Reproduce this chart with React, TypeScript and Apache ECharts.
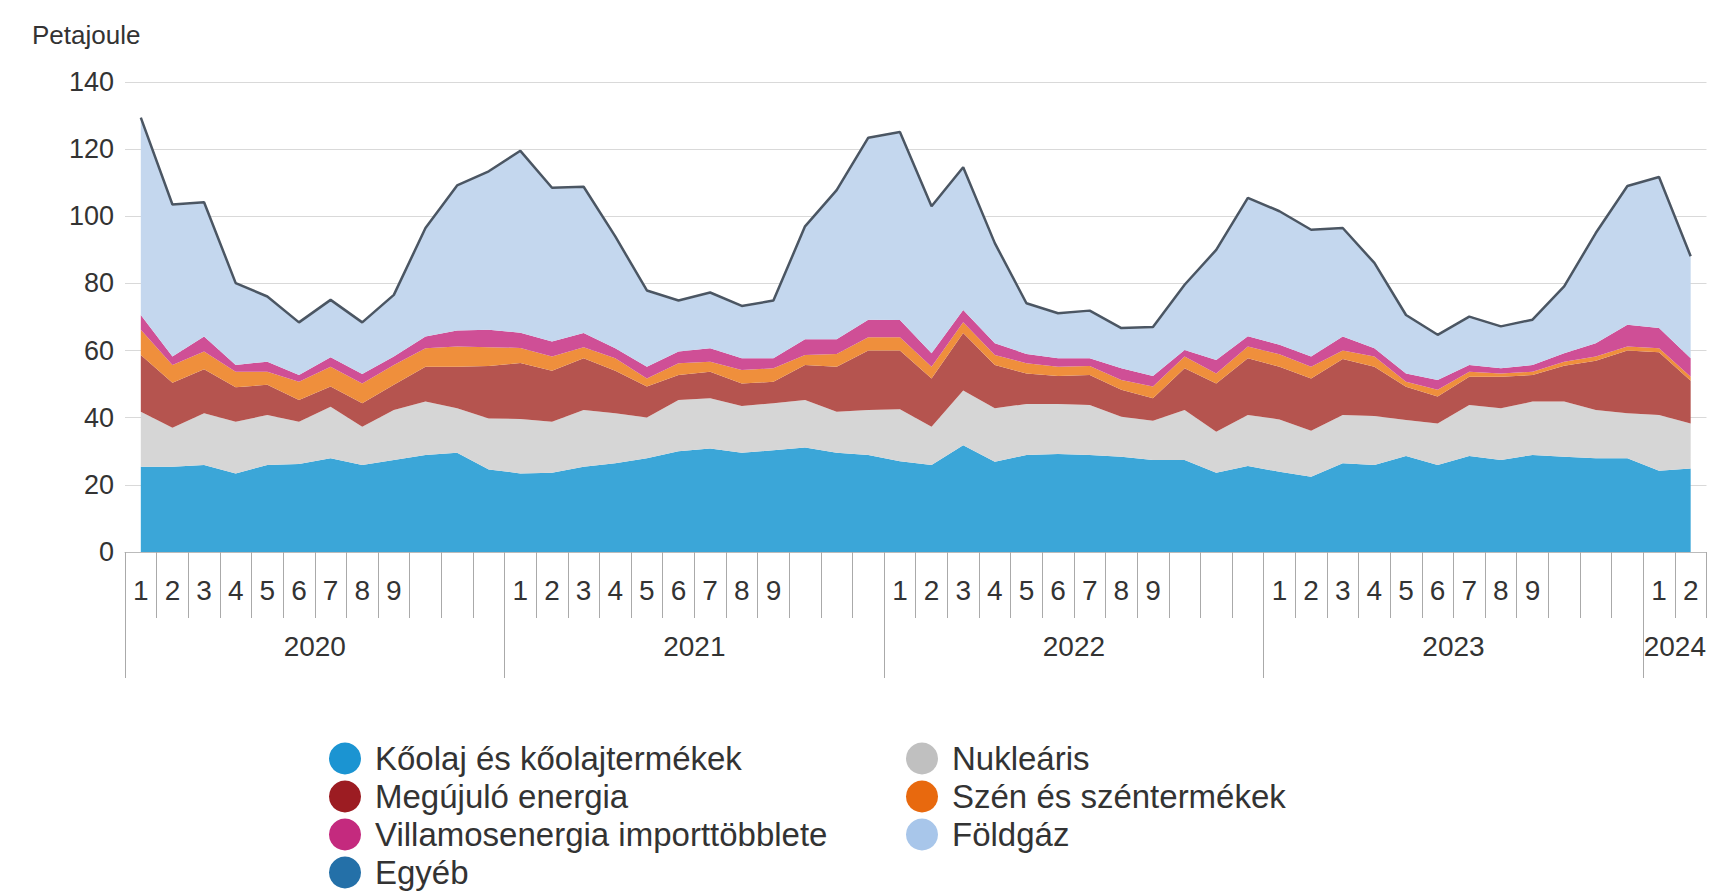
import React, { useEffect, useRef } from "react";
import * as echarts from "echarts";

const monthLabels = ["1","2","3","4","5","6","7","8","9","10","11","12","1","2","3","4","5","6","7","8","9","10","11","12","1","2","3","4","5","6","7","8","9","10","11","12","1","2","3","4","5","6","7","8","9","10","11","12","1","2"];
const monthYears = [2020,2020,2020,2020,2020,2020,2020,2020,2020,2020,2020,2020,2021,2021,2021,2021,2021,2021,2021,2021,2021,2021,2021,2021,2022,2022,2022,2022,2022,2022,2022,2022,2022,2022,2022,2022,2023,2023,2023,2023,2023,2023,2023,2023,2023,2023,2023,2023,2024,2024];
const yearLabels = ["2020", "2021", "2022", "2023", "2024"];

const koolaj = [25.4,25.4,25.9,23.4,25.9,26.2,27.9,25.9,27.4,28.9,29.6,24.6,23.4,23.6,25.4,26.4,27.9,30.0,30.8,29.6,30.3,31.1,29.6,28.9,27.0,25.9,31.8,26.9,28.9,29.2,28.9,28.4,27.4,27.4,23.6,25.6,23.9,22.4,26.4,25.9,28.6,25.9,28.6,27.4,28.9,28.4,27.9,27.9,24.2,24.9];
const nuklearis = [16.4,11.6,15.4,15.4,14.9,12.6,15.4,11.4,14.9,15.9,13.2,15.2,16.2,15.2,16.9,14.9,12.2,15.3,15.0,13.9,14.0,14.2,12.2,13.4,15.5,11.4,16.3,15.9,15.2,14.9,14.9,11.9,11.7,14.9,12.2,15.2,15.6,13.7,14.4,14.6,10.7,12.4,15.2,15.4,15.9,16.4,14.4,13.4,16.6,13.4];
const megujulo = [16.9,13.4,13.1,10.3,9.0,6.5,6.0,7.0,7.5,10.4,12.4,15.6,16.7,15.2,15.4,12.7,9.2,7.4,7.9,6.7,6.4,10.4,13.4,17.7,17.5,14.4,17.1,12.9,9.1,8.3,8.9,8.0,6.7,12.4,14.4,16.9,15.7,15.6,16.7,14.7,9.9,8.0,8.4,9.4,7.9,10.7,14.7,18.7,18.7,12.7];
const szen = [7.5,5.3,5.3,4.6,3.9,5.4,5.9,5.9,5.9,5.5,6.0,5.6,4.5,4.2,3.3,3.7,2.4,3.5,3.0,4.0,4.0,3.0,3.8,4.0,4.0,3.5,3.2,3.0,3.0,2.8,2.7,2.9,3.5,3.5,3.0,3.5,3.7,3.5,2.5,3.0,1.5,2.0,1.5,1.0,1.0,1.2,1.2,1.2,1.2,1.2];
const villamos = [4.4,2.5,4.5,2.0,3.0,2.0,2.8,2.8,2.5,3.5,4.8,5.2,4.5,4.5,4.2,3.0,3.5,3.5,4.0,3.5,3.0,4.7,4.4,5.2,5.1,4.0,3.7,3.5,2.8,2.5,2.3,3.5,3.1,2.0,4.0,3.1,2.8,3.0,4.2,2.5,2.5,2.9,2.0,1.5,2.0,2.5,4.0,6.5,6.0,5.5];
const foldgaz = [58.5,45.0,39.7,24.1,19.1,15.4,16.8,15.1,18.1,32.0,42.9,46.9,53.9,45.5,43.3,33.0,22.4,14.9,16.3,15.3,16.9,33.3,44.1,53.9,55.7,43.5,42.2,29.5,14.8,13.1,13.9,11.7,14.3,19.1,32.5,40.9,39.5,37.5,32.0,25.1,17.1,13.2,14.1,12.2,13.2,19.6,32.5,41.0,44.7,30.1];
const egyeb = [0.3,0.3,0.3,0.3,0.3,0.3,0.3,0.3,0.3,0.3,0.3,0.3,0.3,0.3,0.3,0.3,0.3,0.3,0.3,0.3,0.3,0.3,0.3,0.3,0.3,0.3,0.3,0.3,0.3,0.3,0.3,0.3,0.3,0.3,0.3,0.3,0.3,0.3,0.3,0.3,0.3,0.3,0.3,0.3,0.3,0.3,0.3,0.3,0.3,0.3];

const seriesNames = [
  "Kőolaj és kőolajtermékek",
  "Nukleáris",
  "Megújuló energia",
  "Szén és széntermékek",
  "Villamosenergia importtöbblete",
  "Földgáz",
  "Egyéb",
];
const seriesValues = [koolaj, nuklearis, megujulo, szen, villamos, foldgaz, egyeb];
const legendColors = ["#1b94d2", "#c0c0c0", "#9c1c22", "#e8690e", "#c42a7e", "#a8c6ea", "#2470a8"];
const areaColors = ["#3ba6d8", "#d6d6d6", "#b5544f", "#ef8f3c", "#cf4f96", "#c4d7ee", "#c4d7ee"];

const FONT = "'Liberation Sans', Arial, sans-serif";

// Year axis on half-month positions (0..2N), labels at the centre of each year's months
const N = monthLabels.length;
const halfPositions: string[] = [];
for (let p = 0; p <= 2 * N; p++) halfPositions.push("p" + p);
const yearAt: Record<number, string> = {};
const yearBoundaries: Record<number, boolean> = {};
yearLabels.forEach((y) => {
  const idx: number[] = [];
  monthYears.forEach((my, i) => { if (String(my) === y) idx.push(i); });
  const first = idx[0];
  const last = idx[idx.length - 1];
  yearAt[first + last + 1] = y; // centre in half-month units
  yearBoundaries[2 * first] = true;
});

const legendBase = {
  orient: "vertical",
  top: 742,
  padding: 0,
  height: 200,
  icon: "circle",
  itemWidth: 32,
  itemHeight: 32,
  itemGap: 5,
  selectedMode: false,
  textStyle: { fontFamily: FONT, fontSize: 33, lineHeight: 32, color: "#333", padding: [0, 0, 0, 9] },
};

export default function App() {
  const ref = useRef<HTMLDivElement>(null);
  useEffect(() => {
    if (!ref.current) return;
    const chart = echarts.init(ref.current, undefined, { renderer: "svg" });
    chart.setOption({
      animation: false,
      textStyle: { fontFamily: FONT },
      title: {
        text: "Petajoule",
        left: 27,
        top: 17,
        textStyle: { fontFamily: FONT, fontSize: 26, fontWeight: "normal", color: "#333" },
      },
      grid: { left: 125, right: -3, top: 82, bottom: 339, containLabel: false },
      legend: [
        {
          ...legendBase,
          data: [seriesNames[0], seriesNames[2], seriesNames[4], seriesNames[6]],
          left: 329,
        },
        {
          ...legendBase,
          data: [seriesNames[1], seriesNames[3], seriesNames[5]],
          left: 906,
        },
      ],
      xAxis: [
        {
          type: "category",
          data: monthLabels,
          boundaryGap: true,
          position: "bottom",
          axisLine: { show: true, lineStyle: { color: "#bbbbbb", width: 1 } },
          axisTick: { show: true, interval: 0, length: 66, lineStyle: { color: "#aaaaaa", width: 1 } },
          axisLabel: {
            interval: 0,
            margin: 24,
            fontSize: 28,
            color: "#333",
            fontFamily: FONT,
            formatter: (v: string) => (Number(v) <= 9 ? v : ""),
          },
          splitLine: { show: false },
        },
        {
          type: "category",
          data: halfPositions,
          boundaryGap: false,
          position: "bottom",
          axisLine: { show: false },
          axisTick: {
            show: true,
            length: 126,
            interval: (index: number) => !!yearBoundaries[index],
            lineStyle: { color: "#aaaaaa", width: 1 },
          },
          axisLabel: {
            interval: (index: number) => !!yearAt[index],
            margin: 80,
            fontSize: 28,
            color: "#333",
            fontFamily: FONT,
            formatter: (_v: string, index: number) => yearAt[index] || "",
          },
          splitLine: { show: false },
        },
      ],
      yAxis: {
        type: "value",
        min: 0,
        max: 140,
        interval: 20,
        axisLine: { show: false },
        axisTick: { show: false },
        axisLabel: { fontSize: 27, color: "#333", margin: 11, fontFamily: FONT },
        splitLine: { lineStyle: { color: "#d9d9d9", width: 1 } },
      },
      series: seriesNames.map((name, k) => ({
        name,
        type: "line",
        stack: "total",
        xAxisIndex: 0,
        data: seriesValues[k],
        symbol: "none",
        itemStyle: { color: legendColors[k] },
        lineStyle:
          k === seriesNames.length - 1
            ? { color: "#4b5663", width: 2.5 }
            : { width: 0, opacity: 0 },
        areaStyle: { color: areaColors[k], opacity: 1 },
        emphasis: { disabled: true },
      })),
    });
    return () => chart.dispose();
  }, []);
  return (
    <div
      ref={ref}
      style={{ position: "fixed", left: 0, top: 0, width: 1709, height: 891, background: "#fff" }}
    />
  );
}
